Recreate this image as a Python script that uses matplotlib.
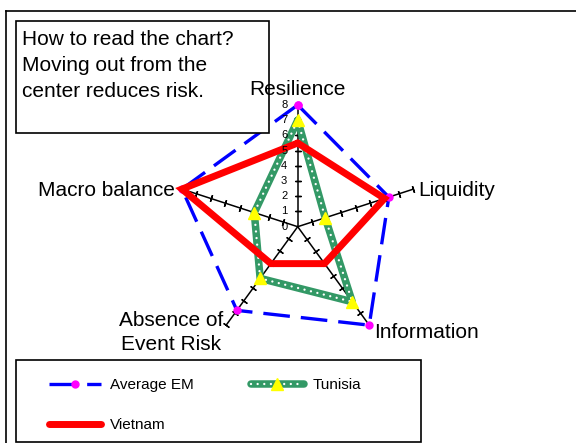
import numpy as np
import matplotlib
matplotlib.use('Agg')
import matplotlib.pyplot as plt
from matplotlib.lines import Line2D
from matplotlib.patches import Rectangle
from matplotlib.legend_handler import HandlerTuple

plt.rcParams['font.family'] = ['Liberation Sans', 'DejaVu Sans']

categories = ['Resilience', 'Liquidity', 'Information', 'Absence of\nEvent Risk', 'Macro balance']
average_em = [8, 6.3, 8, 6.8, 8]
tunisia = [7, 1.9, 6.1, 4.2, 3]
vietnam = [5.5, 6.0, 3.0, 3.0, 8]
ring_values = list(range(0, 9))
note_lines = ['How to read the chart?', 'Moving out from the', 'center reduces risk.']

W, H = 576, 443

def fx(x):
    return x / W

def fy(y):
    return 1 - y / H

fig = plt.figure(figsize=(5.76, 4.43), dpi=100)
ax = fig.add_axes([fx(176), fy(348.4), 243.4 / W, 243.4 / H], projection='polar')
ax.set_theta_zero_location('N')
ax.set_theta_direction(-1)
ax.set_ylim(0, 8)
ax.grid(False)
ax.spines['polar'].set_visible(False)
ax.set_xticks([])
ax.set_yticks([])
ax.patch.set_visible(False)

theta = np.linspace(0, 2 * np.pi, len(categories), endpoint=False)
th_c = np.r_[theta, theta[:1]]

def closed(v):
    return np.r_[v, v[:1]]

# spokes with tick marks at every unit
for t in theta:
    ax.plot([t, t], [0, 8], color='black', lw=1.1, zorder=1, clip_on=False)
    rot = 90 - np.degrees(t)
    ax.plot(np.full(8, t), ring_values[1:], ls='none', marker=(2, 2, rot),
            ms=5, mec='black', mew=1, zorder=1, clip_on=False)

# scale labels on the first spoke
for r in ring_values:
    ax.annotate(str(r), xy=(0, r), xytext=(-7.5, 0), textcoords='offset points',
                ha='right', va='center', fontsize=8, zorder=5)

# series
avg_line, = ax.plot(th_c, closed(average_em), color='#0000FF', lw=2.4, dashes=(8, 3.3),
                    marker='o', ms=5, mfc='#FF00FF', mec='#FF00FF', zorder=2, clip_on=False)
tun_line, = ax.plot(th_c, closed(tunisia), color='#339966', lw=5.4, zorder=3,
                    solid_joinstyle='round', solid_capstyle='round', clip_on=False)
tun_dots, = ax.plot(th_c, closed(tunisia), color='white', lw=1.7, ls=(0, (0.01, 2.8)),
                    dash_capstyle='round', zorder=3.1, clip_on=False)
tun_mark, = ax.plot(theta, tunisia, ls='none', marker='^', ms=8, mfc='#FFFF00',
                    mec='#FFFF00', zorder=3.2, clip_on=False)
viet_line, = ax.plot(th_c, closed(vietnam), color='#FF0000', lw=5, zorder=4,
                     solid_joinstyle='miter', solid_capstyle='round', clip_on=False)

# note box sits over the series but under the labels
ax.add_artist(Rectangle((fx(16), fy(133)), (269 - 16) / W, (133 - 21) / H, transform=fig.transFigure,
                        facecolor='white', edgecolor='black', lw=1.2, zorder=4.5, clip_on=False))
for i, line in enumerate(note_lines):
    ax.text(fx(22), fy(45 + 26 * i), line, transform=fig.transFigure,
            fontsize=15, va='baseline', zorder=4.6)

# category labels
label_style = [
    ((0, 7.2), 'center', 'baseline'),
    ((3.6, -5), 'left', 'baseline'),
    ((3.6, -9.2), 'left', 'baseline'),
    ((-39.6, -17.8), 'center', 'baseline'),
    ((-5, -5), 'right', 'baseline'),
]
for t, name, (off, ha, va) in zip(theta, categories, label_style):
    ax.annotate(name, xy=(t, 8), xytext=off, textcoords='offset points',
                ha=ha, va=va, fontsize=15, linespacing=1.32, multialignment='center', zorder=5)

# chart frame
fig.add_artist(Line2D([fx(6), fx(6)], [fy(11), -0.02], transform=fig.transFigure, color='black', lw=1.2))
fig.add_artist(Line2D([fx(6), 1.02], [fy(11), fy(11)], transform=fig.transFigure, color='black', lw=1.2))

# legend
fig.add_artist(Rectangle((fx(16), fy(441.5)), (421 - 16) / W, (441.5 - 360) / H, transform=fig.transFigure,
                         facecolor='white', edgecolor='black', lw=1.2, zorder=3))
fig.legend([avg_line, viet_line, (tun_line, tun_dots, tun_mark)],
           ['Average EM', 'Vietnam', 'Tunisia'],
           loc='upper left', bbox_to_anchor=(fx(48.5), fy(378)), ncol=2, frameon=False,
           borderpad=0, borderaxespad=0, handlelength=3.45, handletextpad=0.57,
           columnspacing=3.75, labelspacing=1.72, fontsize=11,
           handler_map={tuple: HandlerTuple(ndivide=1)})

fig.savefig('out.png', dpi=100, facecolor='white')
